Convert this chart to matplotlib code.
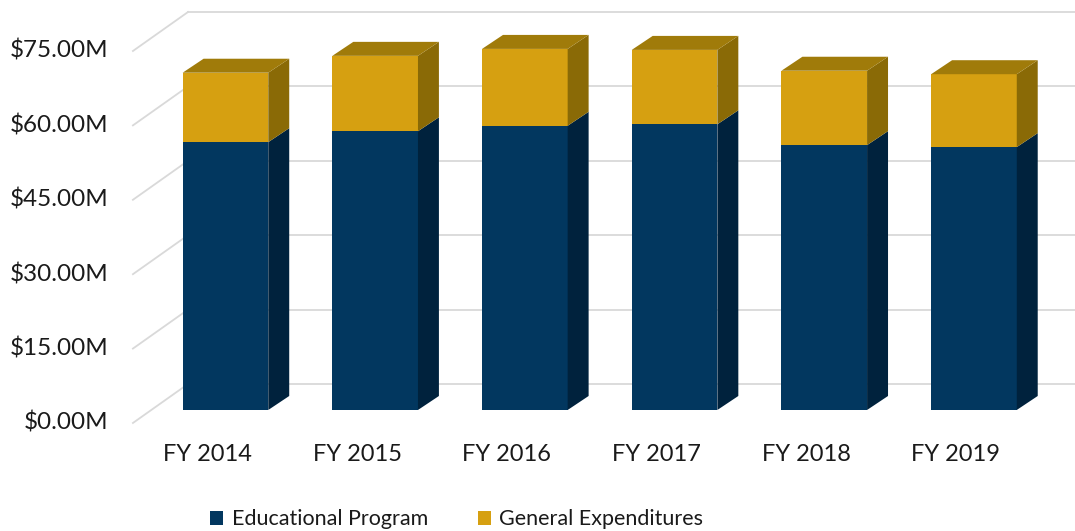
import matplotlib.pyplot as plt
from matplotlib.patches import Polygon
import numpy as np

plt.rcParams['font.family'] = ['Lato', 'DejaVu Sans']

## Data (in $M)
years = ['FY 2014', 'FY 2015', 'FY 2016', 'FY 2017', 'FY 2018', 'FY 2019']
educational = [54.0, 56.2, 57.3, 57.6, 53.4, 53.0]
general = [14.0, 15.2, 15.5, 15.0, 15.0, 14.7]
yticks = [0, 15, 30, 45, 60, 75]

## Colours
blue_front, blue_side = '#02375f', '#00223d'
gold_front, gold_side, gold_top = '#d6a011', '#8a6a06', '#a07b0a'
grid_col = '#d9d9d9'
text_col = '#1a1a1a'

## 3D look parameters (category units / $M units)
width = 0.572
depth_x, depth_y = 0.14, 2.82
front_x, front_dy = -0.618, -2.62
back_x, back_dy = -0.25, 5.24

fig = plt.figure(figsize=(10.75, 5.31), dpi=100)
ax = fig.add_axes([0, 0, 1, 1])
ax.set_xlim(-1.506, 5.675)
ax.set_ylim(-24.4, 82.66)
ax.axis('off')

## Gridlines: diagonal on the side, horizontal on the back wall
for v in yticks:
    ax.plot([front_x, back_x], [v + front_dy, v + back_dy], color=grid_col, lw=1.3, zorder=1)
    ax.plot([back_x, 5.7], [v + back_dy, v + back_dy], color=grid_col, lw=1.3, zorder=1)
    ax.text(front_x - 0.165, v + front_dy, f'${v:.2f}M', ha='right', va='center',
            fontsize=17.5, color=text_col)

x = np.arange(len(years))
edu = np.array(educational)
gen = np.array(general)

b1 = ax.bar(x, edu, width, color=blue_front, zorder=3, label='Educational Program')
b2 = ax.bar(x, gen, width, bottom=edu, color=gold_front, zorder=3, label='General Expenditures')


def add_faces(xc, bottom, top, side_col, top_col):
    r = xc + width / 2
    l = xc - width / 2
    side = Polygon([(r, bottom), (r + depth_x, bottom + depth_y),
                    (r + depth_x, top + depth_y), (r, top)],
                   closed=True, facecolor=side_col, edgecolor='none', zorder=3)
    ax.add_patch(side)
    if top_col is not None:
        cap = Polygon([(l, top), (r, top), (r + depth_x, top + depth_y),
                       (l + depth_x, top + depth_y)],
                      closed=True, facecolor=top_col, edgecolor='none', zorder=3)
        ax.add_patch(cap)


for i in range(len(years)):
    add_faces(x[i], 0, edu[i], blue_side, None)
    add_faces(x[i], edu[i], edu[i] + gen[i], gold_side, gold_top)
    ax.text(x[i] - 0.12, -9.07, years[i], ha='center', va='center',
            fontsize=17, color=text_col)

fig.legend(handles=[b1, b2], loc='center', bbox_to_anchor=(0.425, 0.022),
           ncol=2, frameon=False, fontsize=15.5, handlelength=0.6, handleheight=0.6,
           handletextpad=0.4, columnspacing=2.3, labelcolor=text_col)

fig.savefig('out.png', dpi=100)
